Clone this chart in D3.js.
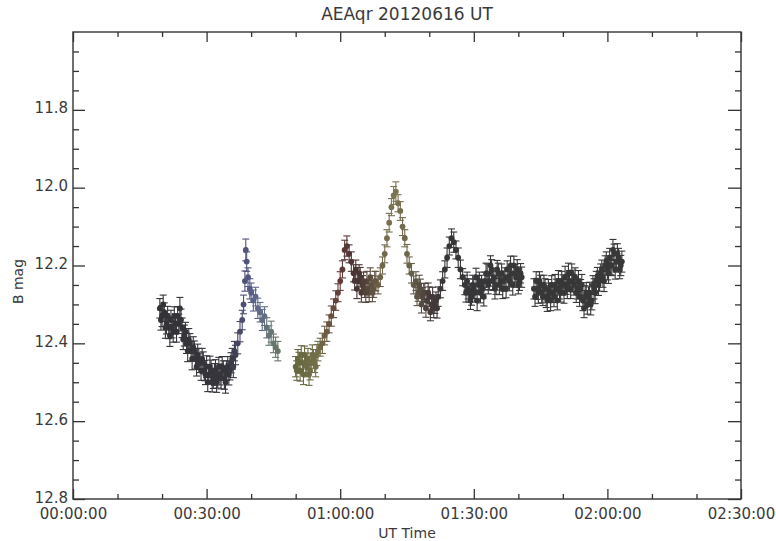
<!DOCTYPE html>
<html>
<head>
<meta charset="utf-8">
<script src="https://cdn.jsdelivr.net/npm/d3@7"></script>
<style>
  html, body { margin: 0; padding: 0; background: #fff; }
  svg { display: block; }
  text { font-family: "DejaVu Sans", sans-serif; fill: #3a3a3a; }
</style>
</head>
<body>
<svg id="chart" width="776" height="541"></svg>
<script>
// UT time of each exposure, minutes after 00:00:00
const times = [
  19.5,20,20.5,21,21.5,22,22.5,23,23.5,24,24.5,25,25.5,26,26.5,27,27.5,28,28.5,29,
  29.5,30,30.5,31,31.5,32,32.5,33,33.5,34,34.5,35,35.5,36,36.5,37,37.5,38,
  38.3,38.6,38.8,39,39.3,39.7,
  40,40.5,41,41.5,42,42.5,43,43.5,44,44.5,45,45.5,46,
  50,50.5,51,51.5,52,52.5,53,53.5,54,54.5,55,55.5,56,56.5,57,57.5,58,58.5,59,59.5,
  60,60.5,61,61.5,62,62.5,63,63.5,64,64.5,65,65.5,66,66.5,67,67.5,68,68.5,69,69.5,
  70,70.5,71,71.5,72,72.5,73,73.5,74,74.5,75,75.5,76,76.5,77,77.5,78,78.5,79,79.5,
  80,80.5,81,81.5,82,82.5,83,83.5,84,84.5,85,85.5,86,86.5,87,87.5,88,88.5,89,89.5,
  90,90.5,91,91.5,92,92.5,93,93.5,94,94.5,95,95.5,96,96.5,97,97.5,98,98.5,99,99.5,
  100,100.5,
  103.5,104,104.5,105,105.5,106,106.5,107,107.5,108,108.5,109,109.5,110,110.5,111,111.5,112,112.5,113,
  113.5,114,114.5,115,115.5,116,116.5,117,117.5,118,118.5,119,119.5,120,120.5,121,121.5,122,122.5,123,
  // interleaved frames
  19.75,20.25,20.75,21.25,21.75,22.25,22.75,23.25,23.75,24.25,
  24.75,25.25,25.75,26.25,26.75,27.25,27.75,28.25,28.75,29.25,
  29.75,30.25,30.75,31.25,31.75,32.25,32.75,33.25,33.75,34.25,
  34.75,35.25,35.75,36.25,
  50.25,50.75,51.25,51.75,52.25,52.75,53.25,53.75,54.25,54.75,
  63.25,63.75,64.25,64.75,65.25,65.75,66.25,66.75,67.25,67.75,
  77.25,77.75,78.25,78.75,79.25,79.75,80.25,80.75,81.25,81.75,
  88.25,88.75,89.25,89.75,90.25,90.75,91.25,91.75,92.25,92.75,
  93.25,93.75,94.25,94.75,95.25,95.75,96.25,96.75,97.25,97.75,
  98.25,98.75,99.25,99.75,100.25,100.75,
  103.75,104.25,104.75,105.25,105.75,106.25,106.75,107.25,107.75,108.25,
  108.75,109.25,109.75,110.25,110.75,111.25,111.75,112.25,112.75,113.25,
  113.75,114.25,114.75,115.25,115.75,116.25,116.75,117.25,117.75,118.25,
  118.75,119.25,119.75,120.25,120.75,121.25,121.75,122.25,122.75,123.25
];

// B magnitude
const mags = [
  12.31,12.33,12.32,12.35,12.36,12.34,12.37,12.35,12.33,12.31,
  12.36,12.38,12.40,12.39,12.42,12.41,12.44,12.43,12.45,12.44,
  12.47,12.46,12.48,12.47,12.49,12.47,12.49,12.48,12.46,12.49,
  12.47,12.48,12.45,12.46,12.43,12.40,12.37,12.34,
  12.30,12.24,12.16,12.19,12.23,12.26,
  12.27,12.29,12.28,12.31,12.32,12.34,12.33,12.36,12.38,12.37,12.40,12.41,12.42,
  12.46,12.44,12.47,12.45,12.43,12.46,12.48,12.45,12.44,12.46,
  12.42,12.41,12.40,12.38,12.37,12.35,12.33,12.31,12.29,12.27,
  12.24,12.21,12.16,12.15,12.17,12.19,12.22,12.21,12.24,12.23,
  12.25,12.26,12.24,12.27,12.25,12.26,12.24,12.25,12.23,12.20,
  12.17,12.13,12.09,12.05,12.02,12.01,12.04,12.06,12.10,12.13,
  12.17,12.20,12.22,12.25,12.24,12.27,12.26,12.28,12.27,12.29,
  12.28,12.30,12.31,12.29,12.28,12.26,12.24,12.21,12.18,12.15,
  12.13,12.14,12.16,12.18,12.21,12.23,12.25,12.24,12.27,12.28,
  12.26,12.23,12.25,12.27,12.26,12.24,12.22,12.24,12.21,12.23,
  12.25,12.22,12.24,12.26,12.23,12.21,12.24,12.22,12.20,12.23,
  12.25,12.22,
  12.26,12.24,12.27,12.25,12.28,12.26,12.29,12.27,12.25,12.28,
  12.26,12.24,12.27,12.25,12.23,12.26,12.24,12.22,12.25,12.27,
  12.24,12.26,12.29,12.28,12.30,12.27,12.29,12.26,12.24,12.25,
  12.22,12.23,12.20,12.21,12.18,12.20,12.17,12.19,12.18,12.20,
  // interleaved frames
  12.34,12.30,12.36,12.33,12.38,12.36,12.33,12.37,12.35,12.34,
  12.39,12.37,12.42,12.40,12.44,12.42,12.46,12.44,12.47,12.45,
  12.48,12.50,12.46,12.50,12.48,12.50,12.46,12.49,12.47,12.50,
  12.46,12.47,12.44,12.42,
  12.47,12.45,12.43,12.48,12.45,12.44,12.47,12.43,12.45,12.43,
  12.24,12.26,12.22,12.27,12.24,12.27,12.26,12.23,12.27,12.24,
  12.28,12.25,12.30,12.27,12.31,12.27,12.32,12.28,12.30,12.31,
  12.27,12.26,12.29,12.25,12.27,12.29,12.24,12.25,12.28,12.22,
  12.25,12.20,12.24,12.26,12.21,12.25,12.22,12.24,12.26,12.23,
  12.20,12.25,12.22,12.21,12.24,12.23,
  12.28,12.26,12.24,12.27,12.25,12.28,12.26,12.29,12.27,12.25,
  12.29,12.26,12.24,12.27,12.25,12.22,12.26,12.24,12.23,12.26,
  12.28,12.25,12.31,12.27,12.28,12.30,12.25,12.27,12.23,12.24,
  12.21,12.24,12.19,12.22,12.20,12.16,12.21,12.17,12.21,12.19
];

// 1-sigma photometric errors
const errs = [
  0.025,0.027,0.024,0.026,0.028,0.025,0.027,0.026,0.024,0.028,
  0.025,0.027,0.026,0.028,0.025,0.027,0.026,0.028,0.025,0.027,
  0.026,0.028,0.025,0.027,0.026,0.028,0.025,0.027,0.026,0.028,
  0.025,0.027,0.026,0.028,0.025,0.027,0.026,0.025,
  0.024,0.026,0.028,0.025,0.024,0.026,
  0.025,0.027,0.024,0.026,0.025,0.027,0.024,0.026,0.025,0.027,0.024,0.026,0.025,
  0.026,0.024,0.027,0.025,0.023,0.026,0.028,0.025,0.024,0.026,
  0.025,0.023,0.026,0.024,0.025,0.023,0.026,0.024,0.025,0.023,
  0.024,0.022,0.025,0.026,0.023,0.025,0.022,0.024,0.023,0.025,
  0.024,0.022,0.025,0.023,0.024,0.022,0.025,0.023,0.024,0.022,
  0.023,0.022,0.024,0.022,0.023,0.025,0.022,0.024,0.023,0.022,
  0.024,0.022,0.025,0.023,0.024,0.022,0.025,0.023,0.024,0.022,
  0.025,0.023,0.024,0.022,0.025,0.023,0.024,0.022,0.025,0.023,
  0.024,0.026,0.023,0.025,0.024,0.022,0.025,0.023,0.024,0.022,
  0.025,0.023,0.024,0.026,0.025,0.023,0.024,0.022,0.025,0.023,
  0.024,0.026,0.023,0.025,0.024,0.022,0.025,0.023,0.024,0.026,
  0.023,0.025,
  0.026,0.024,0.027,0.025,0.023,0.026,0.028,0.025,0.024,0.026,
  0.025,0.027,0.024,0.026,0.028,0.025,0.027,0.024,0.026,0.025,
  0.027,0.024,0.026,0.028,0.025,0.027,0.024,0.026,0.025,0.027,
  0.024,0.026,0.025,0.027,0.024,0.026,0.025,0.027,0.024,0.026,
  // interleaved frames
  0.026,0.024,0.027,0.025,0.028,0.026,0.024,0.027,0.025,0.028,
  0.026,0.024,0.027,0.025,0.028,0.026,0.024,0.027,0.025,0.028,
  0.026,0.024,0.027,0.025,0.028,0.026,0.024,0.027,0.025,0.028,
  0.026,0.024,0.027,0.025,
  0.025,0.027,0.024,0.026,0.025,0.027,0.024,0.026,0.025,0.027,
  0.023,0.025,0.022,0.024,0.023,0.025,0.022,0.024,0.023,0.025,
  0.023,0.025,0.022,0.024,0.023,0.025,0.022,0.024,0.023,0.025,
  0.024,0.026,0.023,0.025,0.024,0.026,0.023,0.025,0.024,0.026,
  0.023,0.025,0.024,0.026,0.023,0.025,0.024,0.026,0.023,0.025,
  0.024,0.026,0.023,0.025,0.024,0.026,
  0.025,0.027,0.024,0.026,0.025,0.028,0.024,0.026,0.025,0.027,
  0.024,0.026,0.025,0.027,0.024,0.026,0.025,0.028,0.024,0.026,
  0.025,0.027,0.024,0.026,0.025,0.027,0.024,0.028,0.025,0.026,
  0.024,0.027,0.025,0.026,0.024,0.027,0.025,0.026,0.024,0.027
];

// axis ticks
const xMajor = [0, 30, 60, 90, 120, 150];
const xMinor = [10, 20, 40, 50, 70, 80, 100, 110, 130, 140];
const yMajor = [11.8, 12.0, 12.2, 12.4, 12.6, 12.8];
const yMinor = [11.65, 11.7, 11.75, 11.85, 11.9, 11.95, 12.05, 12.1, 12.15,
                12.25, 12.3, 12.35, 12.45, 12.5, 12.55, 12.65, 12.7, 12.75];

const svg = d3.select("#chart");
const plotLeft = 73, plotRight = 741, plotTop = 32, plotBottom = 499;

const x = d3.scaleLinear().domain([0, 150]).range([plotLeft, plotRight]);
const y = d3.scaleLinear().domain([11.6, 12.8]).range([plotTop, plotBottom]);

// point colour drifts with time along the run
const colour = d3.scaleLinear()
  .domain([19, 35, 38, 41, 45, 50, 55, 60, 64, 69, 72, 76, 80, 84, 124])
  .range(["#333337", "#35353c", "#4c4c72", "#5e6690", "#667870", "#66663f",
          "#72704a", "#623838", "#463434", "#6e6448", "#7e7652", "#66604a",
          "#463a3a", "#363638", "#383838"]);

const pts = times.map((t, i) => ({ t, m: mags[i], e: errs[i] }));

const fmtTime = m => {
  const h = Math.floor(m / 60), mm = m % 60;
  return String(h).padStart(2, "0") + ":" + String(mm).padStart(2, "0") + ":00";
};

// error bars
const eb = svg.append("g").attr("fill", "none").attr("stroke-width", 1.1);
pts.forEach(d => {
  const c = colour(d.t);
  const cx = x(d.t), y0 = y(d.m - d.e), y1 = y(d.m + d.e);
  eb.append("line").attr("x1", cx).attr("x2", cx).attr("y1", y0).attr("y2", y1).attr("stroke", c);
  eb.append("line").attr("x1", cx - 3.5).attr("x2", cx + 3.5).attr("y1", y0).attr("y2", y0).attr("stroke", c);
  eb.append("line").attr("x1", cx - 3.5).attr("x2", cx + 3.5).attr("y1", y1).attr("y2", y1).attr("stroke", c);
});

// markers
svg.append("g").selectAll("circle").data(pts).join("circle")
  .attr("cx", d => x(d.t)).attr("cy", d => y(d.m)).attr("r", 2.9)
  .attr("fill", d => colour(d.t));

// axes with inward ticks on all four sides
function styleAxis(g) {
  g.select(".domain").remove();
  g.selectAll(".tick line").attr("stroke", "#333").attr("stroke-width", 1.3);
  g.selectAll(".tick text").style("font-size", "15px").attr("fill", "#3a3a3a");
}

svg.append("g").attr("transform", `translate(0,${plotBottom})`)
  .call(d3.axisBottom(x).tickValues(xMajor).tickSize(-10).tickPadding(9).tickFormat(fmtTime))
  .call(styleAxis);
svg.append("g").attr("transform", `translate(0,${plotBottom})`)
  .call(d3.axisBottom(x).tickValues(xMinor).tickSize(-5).tickFormat(""))
  .call(styleAxis);
svg.append("g").attr("transform", `translate(0,${plotTop})`)
  .call(d3.axisTop(x).tickValues(xMajor).tickSize(-10).tickFormat(""))
  .call(styleAxis);
svg.append("g").attr("transform", `translate(0,${plotTop})`)
  .call(d3.axisTop(x).tickValues(xMinor).tickSize(-5).tickFormat(""))
  .call(styleAxis);

const yAxisLeft = svg.append("g").attr("transform", `translate(${plotLeft},0)`)
  .call(d3.axisLeft(y).tickValues(yMajor).tickSize(-12).tickPadding(5).tickFormat(d3.format(".1f")))
  .call(styleAxis);
yAxisLeft.selectAll(".tick text").attr("dy", "0.2em");
svg.append("g").attr("transform", `translate(${plotLeft},0)`)
  .call(d3.axisLeft(y).tickValues(yMinor).tickSize(-6).tickFormat(""))
  .call(styleAxis);
svg.append("g").attr("transform", `translate(${plotRight},0)`)
  .call(d3.axisRight(y).tickValues(yMajor).tickSize(-13).tickFormat(""))
  .call(styleAxis);
svg.append("g").attr("transform", `translate(${plotRight},0)`)
  .call(d3.axisRight(y).tickValues(yMinor).tickSize(-6).tickFormat(""))
  .call(styleAxis);

// frame
svg.append("rect")
  .attr("x", plotLeft).attr("y", plotTop)
  .attr("width", plotRight - plotLeft).attr("height", plotBottom - plotTop)
  .attr("fill", "none").attr("stroke", "#333").attr("stroke-width", 1.4);

// titles
svg.append("text").attr("x", (plotLeft + plotRight) / 2).attr("y", 20)
  .attr("text-anchor", "middle").style("font-size", "17px").text("AEAqr 20120616 UT");
svg.append("text").attr("x", (plotLeft + plotRight) / 2).attr("y", 538)
  .attr("text-anchor", "middle").style("font-size", "14px").text("UT Time");
svg.append("text").attr("transform", `translate(23,${(plotTop + plotBottom) / 2 + 16}) rotate(-90)`)
  .attr("text-anchor", "middle").style("font-size", "14px").text("B mag");
</script>
</body>
</html>
